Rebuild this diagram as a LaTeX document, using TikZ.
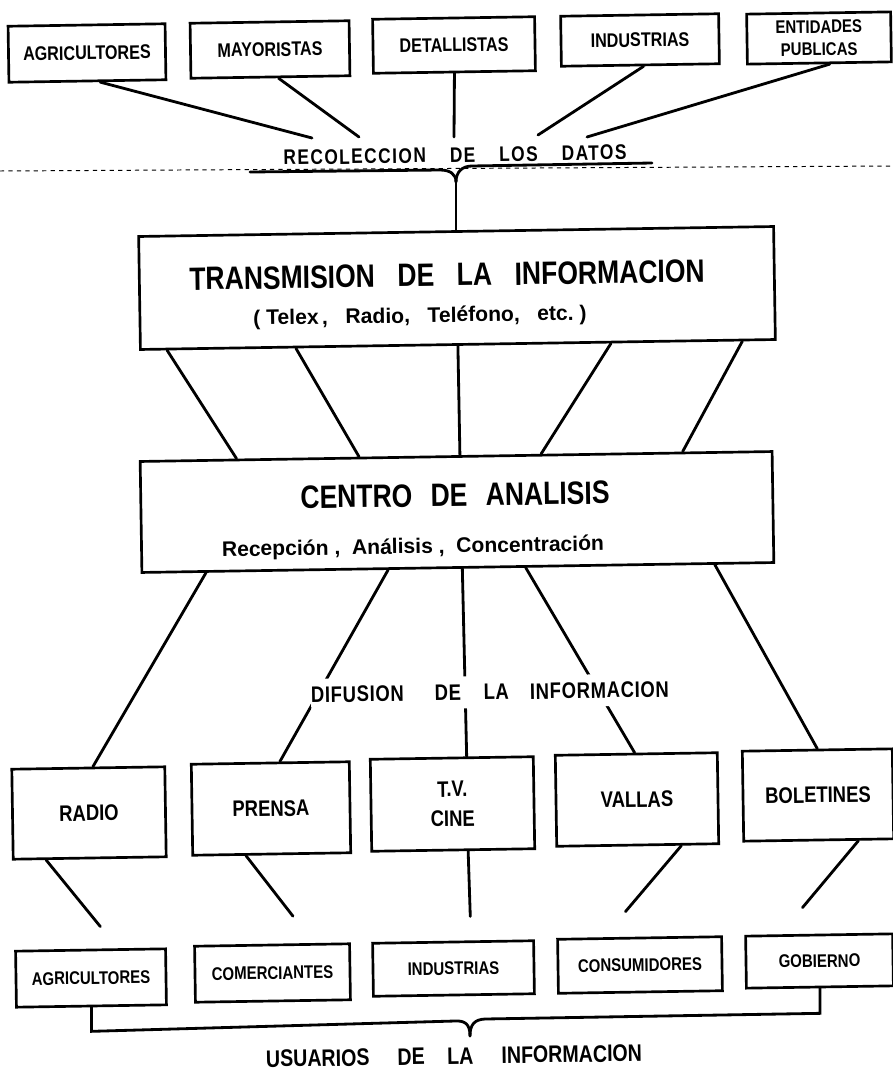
\documentclass[tikz,border=0pt]{standalone}
\usepackage{fontspec}
\setmainfont{Liberation Sans}[FakeStretch=0.82]
\newfontfamily\widefont{Liberation Sans}
\usetikzlibrary{calc}
\newcommand\gap[1]{\hspace*{#1pt}}
\tikzset{
  box/.style={draw, line width=1.9pt, rotate=0.9, inner sep=0pt, align=center, font=\bfseries\fontsize{14}{14}\selectfont},
  dims/.style 2 args={minimum width=#1*0.025cm, minimum height=#2*0.025cm},
  mbox/.style={box, font=\bfseries\fontsize{16}{21}\selectfont},
  ubox/.style={box, font=\bfseries\fontsize{13}{13}\selectfont},
  link/.style={line width=2pt, line cap=round},
  big/.style={rotate=0.9, inner sep=0pt, font=\bfseries\fontsize{23}{26}\selectfont},
  sub/.style={rotate=0.9, inner sep=0pt, font=\widefont\bfseries\fontsize{15}{17}\selectfont},
  head/.style={rotate=0.9, inner sep=0pt, font=\bfseries\fontsize{16}{18}\selectfont},
  cut/.style={line width=0.7pt, dashed},
}

\begin{document}
\begin{tikzpicture}[x=0.025cm, y=-0.025cm]
  \fill[white] (0,0) rectangle (893,1072);
  \useasboundingbox (0,0) rectangle (893,1072);

  % fuentes de los datos
  \node[box, dims={157}{56}] (srcAgr) at (87,53) {AGRICULTORES};
  \node[box, dims={159}{55}] (srcMay) at (270,49.5) {MAYORISTAS};
  \node[box, dims={162}{54}] (srcDet) at (454,45) {DETALLISTAS};
  \node[box, dims={158}{50}] (srcInd) at (640,40) {INDUSTRIAS};
  \node[box, dims={144}{50}, font=\bfseries\fontsize{13}{16}\selectfont] (srcEnt) at (819,38) {ENTIDADES\\PUBLICAS};

  \node[head, font=\bfseries\addfontfeature{LetterSpace=7}\fontsize{15}{18}\selectfont] (recol) at (455,155) {RECOLECCION\gap{17}DE\gap{17}LOS\gap{17}DATOS};
  \draw[cut] (0,171) -- (893,166);

  \coordinate (r1) at (312,138);
  \coordinate (r2) at (359,137);
  \coordinate (r3) at (454,137);
  \coordinate (r4) at (538,135);
  \coordinate (r5) at (587,137);
  \draw[link] ($(srcAgr.south west)!0.58!(srcAgr.south east)$) -- (r1);
  \draw[link] ($(srcMay.south west)!0.55!(srcMay.south east)$) -- (r2);
  \draw[link] ($(srcDet.south west)!0.50!(srcDet.south east)$) -- (r3);
  \draw[link] ($(srcInd.south west)!0.52!(srcInd.south east)$) -- (r4);
  \draw[link] ($(srcEnt.south west)!0.57!(srcEnt.south east)$) -- (r5);

  % transmision y analisis
  \node[box, dims={635}{113}] (transm) at (457,288) {};
  \node[big] (transmT) at (447,275) {TRANSMISION\gap{16}DE\gap{16}LA\gap{16}INFORMACION};
  \node[sub] (transmS) at (420,317) {(~Telex\,,~~~Radio,~~~Teléfono,~~~etc.~)};

  \coordinate (bL) at (250,172);
  \coordinate (bR) at (652,163);
  \coordinate (bC) at (456,182);
  \draw[link] (bL) -- (440,170) .. controls (450,170) and (456,174) .. (bC);
  \draw[link] (bR) -- (472,166) .. controls (462,166) and (456,172) .. (bC);
  \draw[link] (bC) -- (bC |- transm.north);

  \node[box, dims={632}{111}] (centro) at (457,512) {};
  \node[big] (centroT) at (455,495) {CENTRO\gap{13}DE\gap{13}ANALISIS};
  \node[sub] (centroS) at (413,548) {Recepción~,~~Análisis~,~~Concentración};

  \draw[link] ($(transm.south west)!0.044!(transm.south east)$) -- ($(centro.north west)!0.154!(centro.north east)$);
  \draw[link] ($(transm.south west)!0.246!(transm.south east)$) -- ($(centro.north west)!0.347!(centro.north east)$);
  \draw[link] ($(transm.south west)!0.500!(transm.south east)$) -- ($(centro.north west)!0.506!(centro.north east)$);
  \draw[link] ($(transm.south west)!0.740!(transm.south east)$) -- ($(centro.north west)!0.634!(centro.north east)$);
  \draw[link] ($(transm.south west)!0.946!(transm.south east)$) -- ($(centro.north west)!0.857!(centro.north east)$);

  % medios de difusion
  \node[mbox, dims={153}{90}] (mRadio) at (89,813) {RADIO};
  \node[mbox, dims={158}{91}] (mPrensa) at (271,808.5) {PRENSA};
  \node[mbox, dims={163}{92}] (mTV) at (452.5,804) {T.V.\\CINE};
  \node[mbox, dims={162}{91}] (mVallas) at (637,799.5) {VALLAS};
  \node[mbox, dims={150}{90}] (mBol) at (818,795) {BOLETINES};

  \draw[link] ($(centro.south west)!0.103!(centro.south east)$) -- ($(mRadio.north west)!0.53!(mRadio.north east)$);
  \draw[link] ($(centro.south west)!0.390!(centro.south east)$) -- ($(mPrensa.north west)!0.56!(mPrensa.north east)$);
  \draw[link] ($(centro.south west)!0.507!(centro.south east)$) -- ($(mTV.north west)!0.59!(mTV.north east)$);
  \draw[link] ($(centro.south west)!0.607!(centro.south east)$) -- ($(mVallas.north west)!0.49!(mVallas.north east)$);
  \draw[link] ($(centro.south west)!0.905!(centro.south east)$) -- ($(mBol.north west)!0.50!(mBol.north east)$);

  \node[head, fill=white, inner ysep=0.2cm, font=\bfseries\addfontfeature{LetterSpace=3}\fontsize{16}{18}\selectfont] (difus) at (490,692) {DIFUSION\gap{22}DE\gap{16}LA\gap{15}INFORMACION};

  % usuarios
  \node[ubox, dims={150}{56}] (uAgr) at (91,978) {AGRICULTORES};
  \node[ubox, dims={155}{56}] (uCom) at (272.5,973) {COMERCIANTES};
  \node[ubox, dims={161}{53}] (uInd) at (453.5,968.5) {INDUSTRIAS};
  \node[ubox, dims={164}{54}] (uCon) at (640,965) {CONSUMIDORES};
  \node[ubox, dims={147}{52}] (uGob) at (819.5,961) {GOBIERNO};

  \draw[link, shorten >=0.7cm] ($(mRadio.south west)!0.22!(mRadio.south east)$) -- ($(uAgr.north west)!0.68!(uAgr.north east)$);
  \draw[link, shorten >=0.85cm] ($(mPrensa.south west)!0.34!(mPrensa.south east)$) -- ($(uCom.north west)!0.765!(uCom.north east)$);
  \draw[link, shorten >=0.6cm] ($(mTV.south west)!0.59!(mTV.south east)$) -- ($(uInd.north west)!0.61!(uInd.north east)$);
  \draw[link, shorten >=0.84cm] ($(mVallas.south west)!0.765!(mVallas.south east)$) -- ($(uCon.north west)!0.285!(uCon.north east)$);
  \draw[link, shorten >=0.87cm] ($(mBol.south west)!0.76!(mBol.south east)$) -- ($(uGob.north west)!0.24!(uGob.north east)$);

  \coordinate (kC) at (470,1036);
  \draw[link] (uAgr.south) -- ++(0,24) coordinate (kL) -- (455,1021) .. controls (465,1020.5) and (470,1024) .. (kC);
  \draw[link] (uGob.south) -- ++(0,25) coordinate (kR) -- (485,1019) .. controls (475,1019.5) and (470,1024) .. (kC);

  \node[head, font=\bfseries\fontsize{17}{19}\selectfont] (usuar) at (454,1056) {USUARIOS\gap{20}DE\gap{16}LA\gap{20}INFORMACION};
\end{tikzpicture}
\end{document}
